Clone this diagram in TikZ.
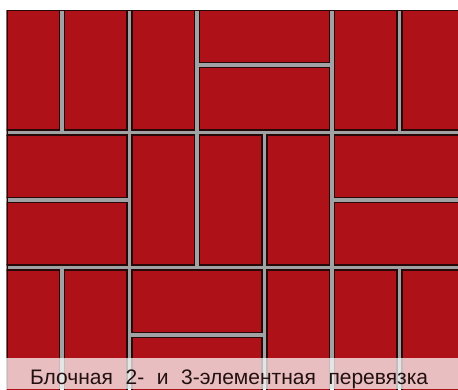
\documentclass[tikz,border=0pt]{standalone}
\usepackage{fontspec}
\setmainfont{Liberation Sans}
\definecolor{brickred}{HTML}{AE1117}
\definecolor{mortar}{HTML}{A1A2A4}
\definecolor{brickedge}{HTML}{260808}
\definecolor{captext}{HTML}{231010}
\tikzset{
  brick/.style={fill=brickred, draw=brickedge, line width=1.1pt},
}
\newcommand\VBrick[2]{\path[brick] ({-3+67.5*#1},{135*#2}) rectangle +(62.5,130);}
\newcommand\HPair[2]{%
  \path[brick] ({-3+67.5*#1},{135*#2}) rectangle +(130,62.5);
  \path[brick] ({-3+67.5*#1},{135*#2+67.5}) rectangle +(130,62.5);}
\begin{document}
\begin{tikzpicture}[x=1pt,y=-1pt]
\useasboundingbox (0,0) rectangle (458,389);
\fill[white] (0,0) rectangle (458,389);
\begin{scope}
\clip (6.5,10) rectangle (458,389);
\fill[mortar] (0,0) rectangle (458,389);
% row 1
\VBrick{0}{0}\VBrick{1}{0}\VBrick{2}{0}\HPair{3}{0}\VBrick{5}{0}\VBrick{6}{0}
% row 2
\HPair{0}{1}\VBrick{2}{1}\VBrick{3}{1}\VBrick{4}{1}\HPair{5}{1}
% row 3
\VBrick{0}{2}\VBrick{1}{2}\HPair{2}{2}\VBrick{4}{2}\VBrick{5}{2}\VBrick{6}{2}
\draw[brickedge, line width=1.3pt] (7,389) -- (7,10.6) -- (458,10.6);
\end{scope}
\fill[white, opacity=0.73] (0,358) rectangle (458,389);
\node[anchor=base west, inner sep=0pt, text=captext, font=\fontsize{21}{24}\selectfont] (caption) at (30,384)
  {\makebox[398pt][s]{Блочная 2- и 3-элементная перевязка}};
\end{tikzpicture}
\end{document}
